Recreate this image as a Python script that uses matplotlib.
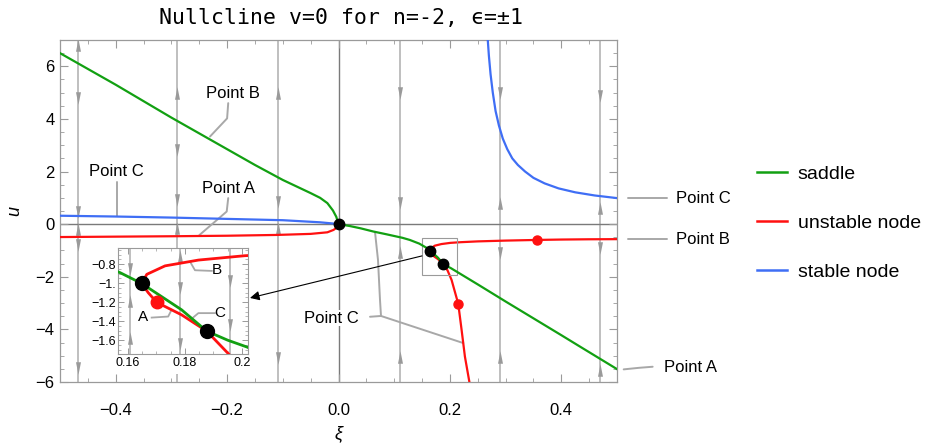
import matplotlib.pyplot as plt
from matplotlib.patches import Rectangle
from matplotlib.path import Path
from matplotlib.ticker import MultipleLocator, FixedLocator
import numpy as np

plt.rcParams['font.family'] = ['Liberation Sans', 'DejaVu Sans']

# nullcline branches (xi, u)
sad_x = [-0.5, -0.4, -0.3, -0.2, -0.15, -0.1, -0.07, -0.05, -0.033, -0.02, -0.01, -0.004, 0.0,
         0.02, 0.04, 0.0625, 0.085, 0.1, 0.115, 0.128, 0.145, 0.1572, 0.1648, 0.1788, 0.1876,
         0.195, 0.2016, 0.25, 0.3, 0.35, 0.4, 0.434, 0.5]
sad_u = [6.5, 5.3, 4.05, 2.85, 2.25, 1.68, 1.38, 1.18, 1.0, 0.8, 0.52, 0.28, 0.0,
         -0.07, -0.16, -0.28, -0.38, -0.45, -0.52, -0.6, -0.74, -0.889, -1.003, -1.28, -1.504,
         -1.6, -1.67, -2.29, -2.94, -3.58, -4.22, -4.66, -5.51]

unst_left_x = [-0.5, -0.4, -0.3, -0.2, -0.111, -0.05, -0.02, -0.009, -0.003, 0.0]
unst_left_u = [-0.49, -0.475, -0.46, -0.44, -0.41, -0.37, -0.31, -0.22, -0.13, 0.0]
unst_right_x = [0.5, 0.45, 0.4, 0.356, 0.3, 0.25, 0.22, 0.201, 0.1847, 0.173, 0.1666, 0.1648,
                0.1671, 0.1701, 0.1788, 0.1876, 0.1958, 0.203, 0.215, 0.221, 0.227, 0.235]
unst_right_u = [-0.57, -0.575, -0.585, -0.6, -0.625, -0.655, -0.685, -0.711, -0.757, -0.818, -0.907, -1.003,
                -1.1, -1.202, -1.333, -1.504, -1.76, -2.12, -3.03, -4.02, -5.04, -6.0]

stab_left_x = [-0.5, -0.4, -0.3, -0.2, -0.1, -0.033, -0.01, 0.0]
stab_left_u = [0.32, 0.29, 0.25, 0.2, 0.15, 0.07, 0.025, 0.0]
stab_right_x = [0.268, 0.27, 0.273, 0.277, 0.282, 0.288, 0.295, 0.303, 0.312, 0.322, 0.335,
                0.35, 0.37, 0.395, 0.425, 0.46, 0.5]
stab_right_u = [7.0, 6.4, 5.7, 5.0, 4.3, 3.75, 3.25, 2.85, 2.5, 2.25, 2.0,
                1.76, 1.55, 1.36, 1.21, 1.09, 0.99]

black_pts_x = [0.0, 0.1648, 0.1876]
black_pts_u = [0.0, -1.003, -1.504]
red_pts_x = [0.356, 0.215]
red_pts_u = [-0.6, -3.03]
inset_red_x = [0.1701]
inset_red_u = [-1.202]

# vertical flow lines and arrow heads (u, direction)
flow_x = [-0.468, -0.29, -0.109, 0.11, 0.29, 0.47]
flow_arrows = [
    [(6.82, 1), (4.8, -1), (0.47, -1), (-0.18, 1), (-0.79, -1), (-5.47, -1)],
    [(4.99, 1), (2.83, -1), (0.92, -1), (-0.15, 1), (-5.47, -1)],
    [(4.99, 1), (0.85, -1), (-0.15, 1), (-5.1, -1)],
    [(4.99, -1), (0.81, -1), (-1.04, 1), (-5.04, 1)],
    [(4.99, -1), (0.8, 1), (-1.1, -1), (-5.05, 1)],
    [(4.86, -1), (0.62, 1), (-0.9, -1), (-5.55, 1)],
]
inset_flow_x = [0.1607, 0.1782, 0.1958]
inset_flow_arrows = [
    [(-0.853, -1), (-1.19, 1), (-1.58, 1)],
    [(-0.71, 1), (-1.05, -1), (-1.635, -1)],
    [(-0.98, -1), (-1.44, -1)],
]

GREEN = '#12a012'
RED = '#ff1010'
BLUE = '#3f6ef5'
FLOW = '#b4b4b4'
HEAD = '#9a9a9a'
FRAME = '#9a9a9a'
CALL = '#a8a8a8'

up_head = Path([(0, 1), (-0.4, -1), (0.4, -1), (0, 1)], closed=True)
dn_head = Path([(0, -1), (-0.4, 1), (0.4, 1), (0, -1)], closed=True)

W, H = 932, 446
fig = plt.figure(figsize=(W / 100, H / 100), dpi=100)


def fr(x0, y0, x1, y1):
    return [x0 / W, 1 - y1 / H, (x1 - x0) / W, (y1 - y0) / H]


ax = fig.add_axes(fr(60, 40, 617, 382))
ax.set_xlim(-0.5, 0.5)
ax.set_ylim(-6, 7)

for fx, arr in zip(flow_x, flow_arrows):
    ax.axvline(fx, color=FLOW, lw=1.2, zorder=1)
    for uu, d in arr:
        ax.plot([fx], [uu], marker=up_head if d > 0 else dn_head, ms=9, color=HEAD, mew=0, zorder=1.5)

ax.axhline(0, color='#7a7a7a', lw=1.0, zorder=1.2)
ax.axvline(0, color='#7a7a7a', lw=1.0, zorder=1.2)

ax.plot(stab_left_x, stab_left_u, color=BLUE, lw=1.6, zorder=3)
ax.plot(stab_right_x, stab_right_u, color=BLUE, lw=1.6, zorder=3)
ax.plot(unst_left_x, unst_left_u, color=RED, lw=1.6, zorder=3)
ax.plot(unst_right_x, unst_right_u, color=RED, lw=1.6, zorder=3)
ax.plot(sad_x, sad_u, color=GREEN, lw=1.6, zorder=3.5)
ax.plot(red_pts_x, red_pts_u, 'o', color=RED, ms=6.5, zorder=4)
ax.plot(black_pts_x, black_pts_u, 'o', color='black', ms=7.5, zorder=4.5)

ax.tick_params(which='both', direction='in', top=True, right=True, color=FRAME, labelsize=12)
ax.tick_params(which='major', length=6, width=0.8)
ax.tick_params(which='minor', length=3, width=0.6)
ax.tick_params(axis='x', pad=15)
ax.tick_params(axis='y', pad=4)
ax.xaxis.set_major_locator(FixedLocator([-0.4, -0.2, 0.0, 0.2, 0.4]))
ax.xaxis.set_minor_locator(MultipleLocator(0.05))
ax.yaxis.set_major_locator(MultipleLocator(2))
ax.yaxis.set_minor_locator(MultipleLocator(0.5))
ax.set_xticklabels(['\u22120.4', '\u22120.2', '0.0', '0.2', '0.4'])
for s in ax.spines.values():
    s.set_color(FRAME)
    s.set_linewidth(0.9)

ax.set_xlabel('\u03be', fontsize=13, style='italic', labelpad=5)
ax.set_ylabel('u', fontsize=13, style='italic', labelpad=9)

# callouts inside the main plot
ckw = dict(color=CALL, lw=1.4, zorder=2.5, solid_capstyle='round')
ax.plot([-0.198, -0.2, -0.2307], [4.6, 4.02, 3.33], **ckw)
ax.text(-0.189, 4.98, 'Point B', fontsize=12, ha='center', va='center', zorder=6)
ax.plot([-0.398, -0.398], [1.62, 0.3], **ckw)
ax.text(-0.398, 2.0, 'Point C', fontsize=12, ha='center', va='center', zorder=6)
ax.plot([-0.198, -0.2007, -0.25], [0.99, 0.48, -0.42], **ckw)
ax.text(-0.198, 1.37, 'Point A', fontsize=12, ha='center', va='center', zorder=6)
ax.plot([0.0566, 0.0763, 0.0745, 0.0709, 0.0655], [-3.52, -3.49, -2.88, -1.36, -0.29], **ckw)
ax.plot([0.0763, 0.224], [-3.49, -4.52], **ckw)
ax.text(-0.012, -3.57, 'Point C', fontsize=12, ha='center', va='center', zorder=6,
        bbox=dict(fc='white', ec='none', pad=0.5))

# callouts to the right of the frame
ax.plot([0.52, 0.59], [0.98, 0.98], clip_on=False, **ckw)
ax.text(0.655, 0.98, 'Point C', fontsize=12, ha='center', va='center')
ax.plot([0.52, 0.59], [-0.57, -0.57], clip_on=False, **ckw)
ax.text(0.655, -0.57, 'Point B', fontsize=12, ha='center', va='center')
ax.plot([0.512, 0.54, 0.564], [-5.52, -5.46, -5.42], clip_on=False, **ckw)
ax.text(0.632, -5.44, 'Point A', fontsize=12, ha='center', va='center')

# zoom box and arrow to inset
ax.add_patch(Rectangle((0.150, -1.93), 0.062, 1.40, fill=False, ec='#9a9a9a', lw=0.8, zorder=3.2))
ax.annotate('', xy=(-0.1589, -2.805), xytext=(0.1499, -1.207),
            arrowprops=dict(arrowstyle='-|>', color='black', lw=0.8, mutation_scale=14, shrinkA=0, shrinkB=0),
            zorder=6)

# white backing behind the inset and its labels
ax.add_patch(Rectangle((86 / W, 1 - 374 / H), (250 - 86) / W, (374 - 248) / H,
                       transform=fig.transFigure, fc='white', ec='none', zorder=5))

# inset
ai = fig.add_axes(fr(118.3, 248, 247.7, 354))
ai.set_xlim(0.1566, 0.2020)
ai.set_ylim(-1.745, -0.63)
for fx, arr in zip(inset_flow_x, inset_flow_arrows):
    ai.axvline(fx, color=FLOW, lw=1.2, zorder=1)
    for uu, d in arr:
        ai.plot([fx], [uu], marker=up_head if d > 0 else dn_head, ms=9, color=HEAD, mew=0, zorder=1.5)
ai.plot(unst_right_x, unst_right_u, color=RED, lw=2.0, zorder=3)
ai.plot(sad_x, sad_u, color=GREEN, lw=2.0, zorder=3.5)
ai.plot(inset_red_x, inset_red_u, 'o', color=RED, ms=9, zorder=4)
ai.plot(black_pts_x, black_pts_u, 'o', color='black', ms=10, zorder=4.5)

ckw2 = dict(color=CALL, lw=1.3, zorder=2.5)
ai.plot([0.1683, 0.1741, 0.1753], [-1.362, -1.351, -1.28], **ckw2)
ai.text(0.1654, -1.351, 'A', fontsize=11, ha='center', va='center')
ai.plot([0.1894, 0.1835, 0.1818], [-0.871, -0.864, -0.775], **ckw2)
ai.text(0.1911, -0.864, 'B', fontsize=11, ha='center', va='center')
ai.plot([0.1905, 0.1847, 0.1829], [-1.315, -1.315, -1.36], **ckw2)
ai.text(0.1923, -1.315, 'C', fontsize=11, ha='center', va='center')

ai.tick_params(which='both', direction='in', top=True, right=True, color=FRAME, labelsize=9, pad=2)
ai.tick_params(which='major', length=4, width=0.7)
ai.tick_params(which='minor', length=2, width=0.5)
ai.xaxis.set_major_locator(FixedLocator([0.16, 0.18, 0.2]))
ai.xaxis.set_minor_locator(MultipleLocator(0.005))
ai.yaxis.set_major_locator(FixedLocator([-1.6, -1.4, -1.2, -1.0, -0.8]))
ai.yaxis.set_minor_locator(MultipleLocator(0.05))
ai.set_xticklabels(['0.16', '0.18', '0.2'])
ai.set_yticklabels(['\u22121.6', '\u22121.4', '\u22121.2', '\u22121.', '\u22120.8'])
for s in ai.spines.values():
    s.set_color(FRAME)
    s.set_linewidth(0.8)

# title
fig.text(341 / W, 1 - 18 / H, 'Nullcline v=0 for n=-2, \u03f5=\u00b11', ha='center', va='center',
         fontsize=15.5, family=['DejaVu Sans Mono', 'DejaVu Sans'])

# legend
h_s, = ax.plot([], [], color=GREEN, lw=1.8)
h_u, = ax.plot([], [], color=RED, lw=1.8)
h_b, = ax.plot([], [], color=BLUE, lw=1.8)
fig.legend([h_s, h_u, h_b], ['saddle', 'unstable node', 'stable node'],
           loc='upper left', bbox_to_anchor=(757 / W, 1 - 165 / H), frameon=False, fontsize=14,
           handlelength=1.55, handletextpad=0.55, labelspacing=1.63, borderpad=0, borderaxespad=0)

fig.savefig('out.png', dpi=100)
